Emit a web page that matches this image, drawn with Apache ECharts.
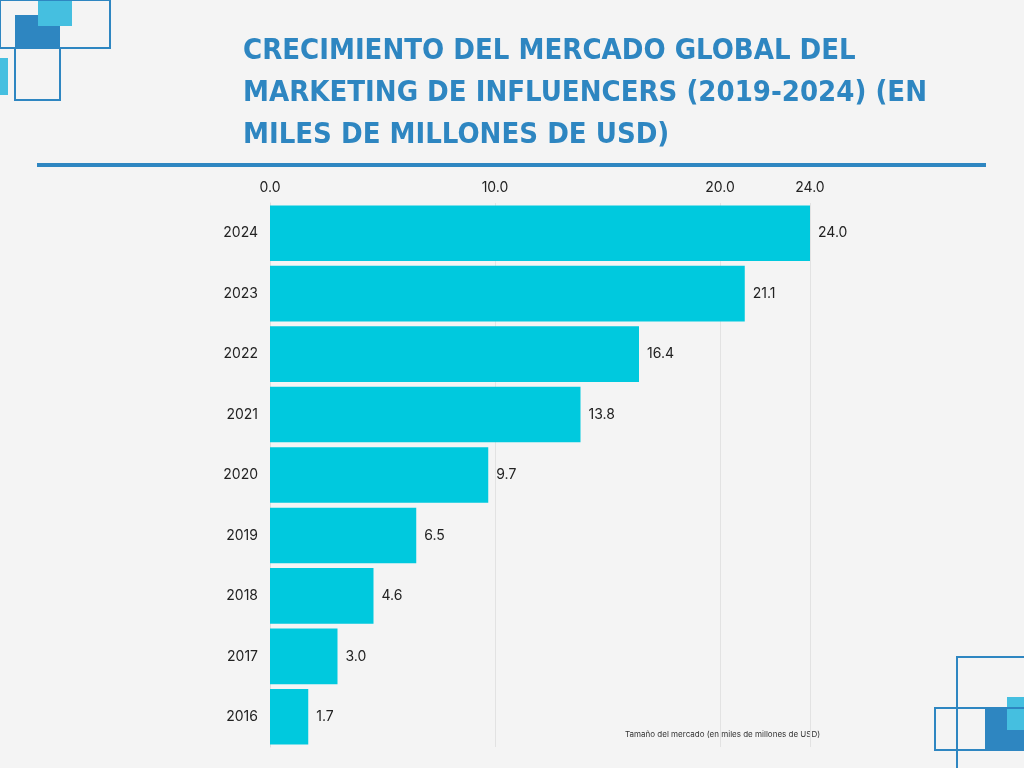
<!DOCTYPE html>
<html>
<head>
<meta charset="utf-8">
<script src="https://cdn.jsdelivr.net/npm/echarts@6/dist/echarts.min.js"></script>
<style>html,body{margin:0;background:#f4f4f4}#main{width:1024px;height:768px}</style>
</head>
<body>
<div id="main"></div>
<script>
var years = ['2016','2017','2018','2019','2020','2021','2022','2023','2024'];
var values = [1.7, 3.0, 4.6, 6.5, 9.7, 13.8, 16.4, 21.1, 24.0];
var titleLines = ['CRECIMIENTO DEL MERCADO GLOBAL DEL', 'MARKETING DE INFLUENCERS (2019-2024) (EN', 'MILES DE MILLONES DE USD)'];

var myChart = echarts.init(document.getElementById('main'));
var blue = '#2e86c1', cyan = '#45bfe0';
var option = {
  backgroundColor: '#f4f4f4',
  animation: false,
  grid: { left: 270, right: 214, top: 203, bottom: 21 },
  xAxis: {
    type: 'value', position: 'top', min: 0, max: 24, interval: 10,
    axisLabel: { color: '#222', fontSize: 14, fontFamily: 'Inter', formatter: function (v) { return v.toFixed(1); } },
    axisLine: { show: false }, axisTick: { show: false },
    splitLine: { lineStyle: { color: '#e2e2e2' } }
  },
  yAxis: {
    type: 'category', data: years,
    axisLabel: { color: '#222', fontSize: 14, fontFamily: 'Inter', margin: 12 },
    axisLine: { lineStyle: { color: '#dddddd' } }, axisTick: { show: false }
  },
  series: [{
    type: 'bar', data: values, barCategoryGap: '8%',
    itemStyle: { color: '#00c9de' },
    label: { show: true, position: 'right', distance: 8, color: '#222', fontSize: 14, fontFamily: 'Inter',
      formatter: function (p) { return p.value.toFixed(1); } }
  }],
  graphic: [
    { type: 'text', left: 243, top: 30, style: { text: titleLines.join('\n'), fill: blue, font: 'bold 29px "Liberation Sans Narrow", "DejaVu Sans Condensed"', lineHeight: 42 } },
    { type: 'rect', shape: { x: 37, y: 163, width: 949, height: 4 }, style: { fill: blue } },
    { type: 'text', left: 625, top: 731, style: { text: 'Tamaño del mercado (en miles de millones de USD)', fill: '#333', font: '8px Inter' } },
    // top-left decoration
    { type: 'rect', shape: { x: 15, y: 15, width: 45, height: 33 }, style: { fill: blue } },
    { type: 'rect', shape: { x: 38, y: 0, width: 34, height: 26 }, style: { fill: cyan } },
    { type: 'rect', shape: { x: 0, y: 0, width: 110, height: 48 }, style: { fill: null, stroke: blue, lineWidth: 2 } },
    { type: 'rect', shape: { x: 15, y: 48, width: 45, height: 52 }, style: { fill: null, stroke: blue, lineWidth: 2 } },
    { type: 'rect', shape: { x: 0, y: 58, width: 8, height: 37 }, style: { fill: cyan } },
    // bottom-right decoration
    { type: 'rect', shape: { x: 985, y: 708, width: 39, height: 42 }, style: { fill: blue } },
    { type: 'rect', shape: { x: 1007, y: 697, width: 17, height: 33 }, style: { fill: cyan } },
    { type: 'rect', shape: { x: 957, y: 657, width: 70, height: 115 }, style: { fill: null, stroke: blue, lineWidth: 2 } },
    { type: 'rect', shape: { x: 935, y: 708, width: 92, height: 42 }, style: { fill: null, stroke: blue, lineWidth: 2 } }
  ]
};
myChart.setOption(option);
</script>
</body>
</html>
